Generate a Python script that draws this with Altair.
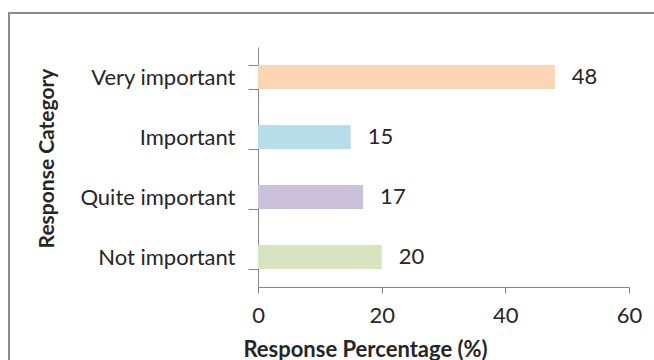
import altair as alt
import pandas as pd

categories = ["Very important", "Important", "Quite important", "Not important"]
values = [48, 15, 17, 20]
colors = ["#FCD5B5", "#B7DEE8", "#CCC1DA", "#D7E4BD"]

df = pd.DataFrame({"cat": categories, "val": values, "color": colors})

FONT = "Lato"
TXT = "#262626"

y_enc = alt.Y("cat:N", sort=categories,
              scale=alt.Scale(paddingInner=0.6, paddingOuter=0.3),
              axis=alt.Axis(title="Response Category", tickBand="extent",
                            domainColor="#868686", tickColor="#868686",
                            tickSize=10, labelPadding=13, labelFontSize=22,
                            labelColor=TXT, labelFont=FONT,
                            titleFont=FONT, titleFontSize=21, titleFontWeight="bold",
                            titleColor=TXT, titleX=-211, titleY=111,
                            titleAngle=270, titleAlign="center",
                            titleBaseline="middle"))
x_enc = alt.X("val:Q", scale=alt.Scale(domain=[0, 60]),
              axis=alt.Axis(title="Response Percentage (%)", values=[0, 20, 40, 60],
                            grid=False, domainColor="#868686", tickColor="#868686",
                            tickSize=6, labelPadding=12, labelFontSize=22,
                            labelFlush=False,
                            labelColor=TXT, labelFont=FONT,
                            titleFont=FONT, titleFontSize=22, titleFontWeight="bold",
                            titleColor=TXT, titleX=107, titleY=62,
                            titleAlign="center", titleBaseline="middle"))

bars = alt.Chart(df).mark_bar().encode(
    y=y_enc, x=x_enc,
    color=alt.Color("color:N", scale=None),
)
labels = alt.Chart(df).mark_text(align="left", baseline="middle", dx=17,
                                 fontSize=22, font=FONT, color=TXT).encode(
    y=alt.Y("cat:N", sort=categories), x=alt.X("val:Q"), text="val:Q"
)
frame = alt.Chart(df).mark_rect(fill=None, stroke="#8C8C8C", strokeWidth=2).encode(
    x=alt.value(-249), x2=alt.value(500), y=alt.value(-34), y2=alt.value(400)
).transform_filter(alt.datum.cat == "Very important")

chart = alt.layer(frame, bars, labels).properties(
    width=371, height=240,
    background="white",
    autosize=alt.AutoSizeParams(type="none"),
    padding={"left": 258, "top": 47, "right": 25, "bottom": 73},
).configure_view(stroke=None)

chart.save("out.html", embed_options={"renderer": "svg", "actions": False})
